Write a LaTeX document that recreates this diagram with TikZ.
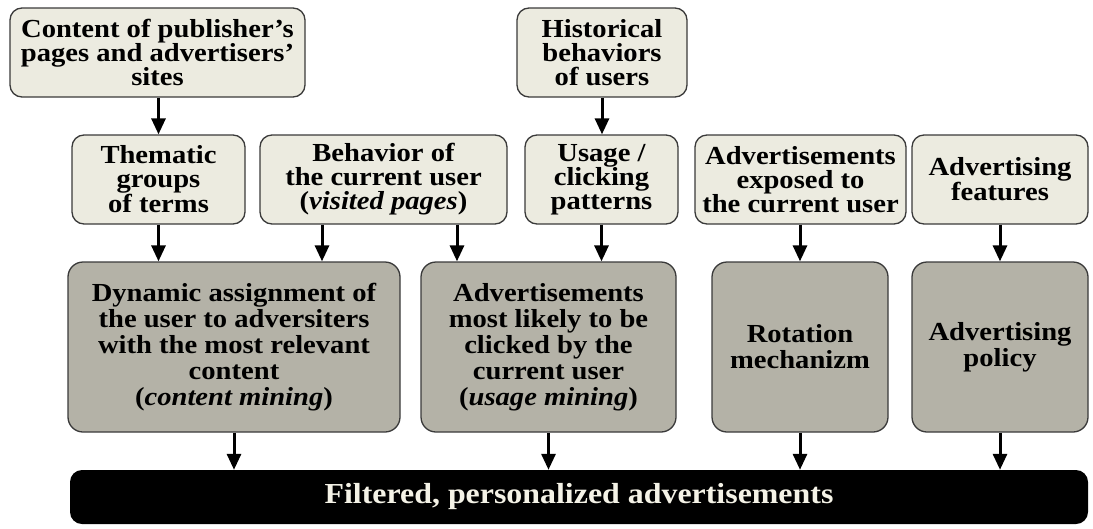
\documentclass[tikz,border=0pt]{standalone}
\usepackage{fontspec}
\setmainfont{Liberation Serif}[FakeStretch=1.1]
\usetikzlibrary{arrows.meta}
\definecolor{lightfill}{HTML}{ECEBE0}
\definecolor{darkfill}{HTML}{B4B2A7}
\definecolor{edgecol}{HTML}{3A3A3A}
\definecolor{bartext}{HTML}{F4F2E6}
\tikzset{
  box/.style={draw=edgecol, line width=1.3pt, rounded corners=12pt, align=center,
    inner sep=0pt, font=\bfseries\fontsize{26}{24}\selectfont},
  inbox/.style={box, fill=lightfill},
  procbox/.style={box, fill=darkfill, rounded corners=15pt,
    font=\bfseries\fontsize{26}{26}\selectfont},
  outbar/.style={fill=black, rounded corners=12pt, text=bartext, inner sep=0pt,
    font=\bfseries\fontsize{29}{30}\selectfont},
  arr/.style={line width=3pt, -{Triangle[width=14pt,length=16pt]}}
}
\begin{document}
\begin{tikzpicture}[x=1pt,y=-1pt]
\useasboundingbox (0,0) rectangle (1093,528);

% sources
\node[inbox, minimum width=295, minimum height=89] (src) at (157.5,52.5)
  {Content of publisher’s\\pages and advertisers’\\sites};
\node[inbox, minimum width=170, minimum height=89] (hist) at (602,52.5)
  {Historical\\behaviors\\of users};

% derived inputs
\node[inbox, minimum width=173, minimum height=89] (thm) at (158.5,179.5)
  {Thematic\\groups\\of terms};
\node[inbox, minimum width=247, minimum height=89] (beh) at (383.5,179.5)
  {Behavior of\\the current user\\(\textit{visited pages})};
\node[inbox, minimum width=153, minimum height=89] (use) at (601.5,179.5)
  {Usage /\\clicking\\patterns};
\node[inbox, minimum width=211, minimum height=89] (exp) at (800.5,179.5)
  {Advertisements\\exposed to\\the current user};
\node[inbox, minimum width=176, minimum height=89] (feat) at (1000,179.5)
  {Advertising\\features};

% processing blocks
\node[procbox, minimum width=332, minimum height=170] (dyn) at (234,347)
  {Dynamic assignment of\\the user to adversiters\\with the most relevant\\content\\(\textit{content mining})};
\node[procbox, minimum width=255, minimum height=170] (ads) at (548.5,347)
  {Advertisements\\most likely to be\\clicked by the\\current user\\(\textit{usage mining})};
\node[procbox, minimum width=176, minimum height=170] (rot) at (800,347)
  {Rotation\\mechanizm};
\node[procbox, minimum width=176, minimum height=170] (pol) at (1000,347)
  {Advertising\\policy};

% result
\node[outbar, minimum width=1018, minimum height=54] (out) at (579,497)
  {Filtered, personalized advertisements};

% connectors
\draw[arr] (src.south -| thm) -- (thm.north);
\draw[arr] (hist.south) -- (hist.south |- use.north);
\draw[arr] (thm.south) -- (thm.south |- dyn.north);
\draw[arr] ([xshift=-61.5pt]beh.south) -- ([xshift=-61.5pt]beh.south |- dyn.north);
\draw[arr] ([xshift=73.5pt]beh.south) -- ([xshift=73.5pt]beh.south |- ads.north);
\draw[arr] (use.south) -- (use.south |- ads.north);
\draw[arr] (exp.south -| rot) -- (rot.north);
\draw[arr] (feat.south) -- (pol.north);
\draw[arr] (dyn.south) -- (dyn.south |- out.north);
\draw[arr] (ads.south) -- (ads.south |- out.north);
\draw[arr] (rot.south) -- (rot.south |- out.north);
\draw[arr] (pol.south) -- (pol.south |- out.north);
\end{tikzpicture}
\end{document}
